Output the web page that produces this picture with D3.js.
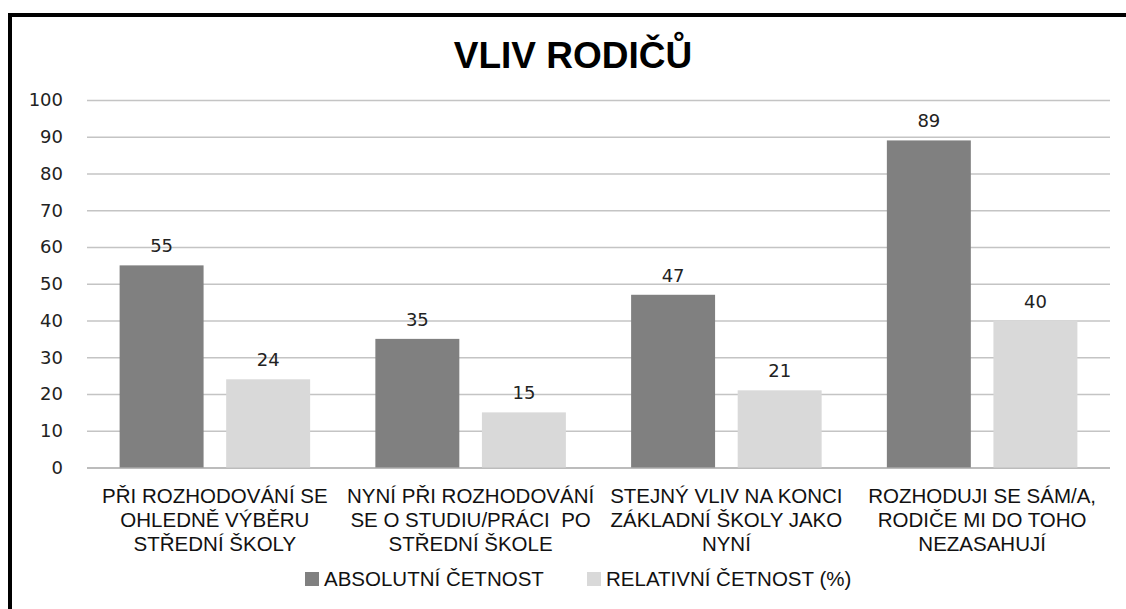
<!DOCTYPE html>
<html>
<head>
<meta charset="utf-8">
<script src="https://cdn.jsdelivr.net/npm/d3@7"></script>
<style>
  body { margin: 0; background: #fff; }
  svg { display: block; }
</style>
</head>
<body>
<svg id="chart" width="1126" height="609"></svg>
<script>
// data
var categories = ["c1", "c2", "c3", "c4"];
var categoryLines = [
  ["PŘI ROZHODOVÁNÍ SE", "OHLEDNĚ VÝBĚRU", "STŘEDNÍ ŠKOLY"],
  ["NYNÍ PŘI ROZHODOVÁNÍ", "SE O STUDIU/PRÁCI  PO", "STŘEDNÍ ŠKOLE"],
  ["STEJNÝ VLIV NA KONCI", "ZÁKLADNÍ ŠKOLY JAKO", "NYNÍ"],
  ["ROZHODUJI SE SÁM/A,", "RODIČE MI DO TOHO", "NEZASAHUJÍ"]
];
var seriesNames = ["ABSOLUTNÍ ČETNOST", "RELATIVNÍ ČETNOST (%)"];
var absolutni = [55, 35, 47, 89];
var relativni = [24, 15, 21, 40];
var yTicks = [0, 10, 20, 30, 40, 50, 60, 70, 80, 90, 100];

var colors = ["#808080", "#d9d9d9"];
var labelFont = "'Liberation Sans', Arial, sans-serif";
var numFont = "'DejaVu Sans', Verdana, sans-serif";

var svg = d3.select("#chart");

// black frame (right/bottom edges fall outside the picture)
svg.append("rect")
  .attr("x", 10).attr("y", 15)
  .attr("width", 1140).attr("height", 620)
  .attr("fill", "none")
  .attr("stroke", "#000")
  .attr("stroke-width", 4);

svg.append("text")
  .attr("x", 573).attr("y", 68)
  .attr("text-anchor", "middle")
  .style("font-family", labelFont)
  .style("font-weight", "bold")
  .style("font-size", "37px")
  .attr("fill", "#000")
  .text("VLIV RODIČŮ");

var plotL = 87, plotR = 1110, plotT = 100, plotB = 467.5;

var x0 = d3.scaleBand()
  .domain(categories)
  .range([plotL, plotR]);

var x1 = d3.scaleBand()
  .domain([0, 1])
  .range([0, x0.bandwidth()])
  .paddingInner(0.212)
  .paddingOuter(0.306);

var y = d3.scaleLinear()
  .domain([0, 100])
  .range([plotB, plotT]);

// gridlines + y labels
var yAxis = svg.append("g")
  .attr("transform", "translate(" + plotL + ",0)")
  .call(d3.axisLeft(y)
    .tickValues(yTicks)
    .tickSize(-(plotR - plotL))
    .tickPadding(24)
    .tickFormat(d3.format("d")));
yAxis.select(".domain").remove();
yAxis.selectAll(".tick line")
  .attr("stroke", d => d === 0 ? "#a6a6a6" : "#c4c4c4")
  .attr("stroke-width", 1.5);
yAxis.selectAll(".tick text")
  .style("font-family", numFont)
  .style("font-size", "18px")
  .attr("fill", "#222");

var rows = categories.map((c, i) => ({ cat: c, vals: [absolutni[i], relativni[i]] }));

var groups = svg.selectAll(".grp")
  .data(rows)
  .join("g")
  .attr("class", "grp")
  .attr("transform", d => "translate(" + x0(d.cat) + ",0)");

groups.selectAll("rect")
  .data(d => d.vals.map((v, k) => ({ k: k, v: v })))
  .join("rect")
  .attr("x", d => x1(d.k))
  .attr("y", d => y(d.v))
  .attr("width", x1.bandwidth())
  .attr("height", d => y(0) - y(d.v))
  .attr("fill", d => colors[d.k]);

groups.selectAll(".val")
  .data(d => d.vals.map((v, k) => ({ k: k, v: v })))
  .join("text")
  .attr("class", "val")
  .attr("x", d => x1(d.k) + x1.bandwidth() / 2)
  .attr("y", d => y(d.v) - 13)
  .attr("text-anchor", "middle")
  .style("font-family", numFont)
  .style("font-size", "18px")
  .attr("fill", "#222")
  .text(d => d.v);

// category labels
svg.selectAll(".cat")
  .data(categories)
  .join("text")
  .attr("class", "cat")
  .attr("text-anchor", "middle")
  .attr("x", d => x0(d) + x0.bandwidth() / 2)
  .attr("y", 503)
  .style("font-family", labelFont)
  .style("font-size", "20.5px")
  .style("white-space", "pre")
  .attr("fill", "#111")
  .selectAll("tspan")
  .data((d, i) => categoryLines[i])
  .join("tspan")
  .attr("x", function () { return d3.select(this.parentNode).attr("x"); })
  .attr("dy", (d, i) => i === 0 ? 0 : 24)
  .text(d => d);

// legend
var legendX = [305, 587];
var legend = svg.selectAll(".leg")
  .data(seriesNames)
  .join("g")
  .attr("class", "leg")
  .attr("transform", (d, i) => "translate(" + legendX[i] + ",579)");
legend.append("rect")
  .attr("x", 0).attr("y", -7)
  .attr("width", 14).attr("height", 14)
  .attr("fill", (d, i) => colors[i]);
legend.append("text")
  .attr("x", 19).attr("y", 7)
  .style("font-family", labelFont)
  .style("font-size", "20.5px")
  .attr("fill", "#111")
  .text(d => d);
</script>
</body>
</html>
